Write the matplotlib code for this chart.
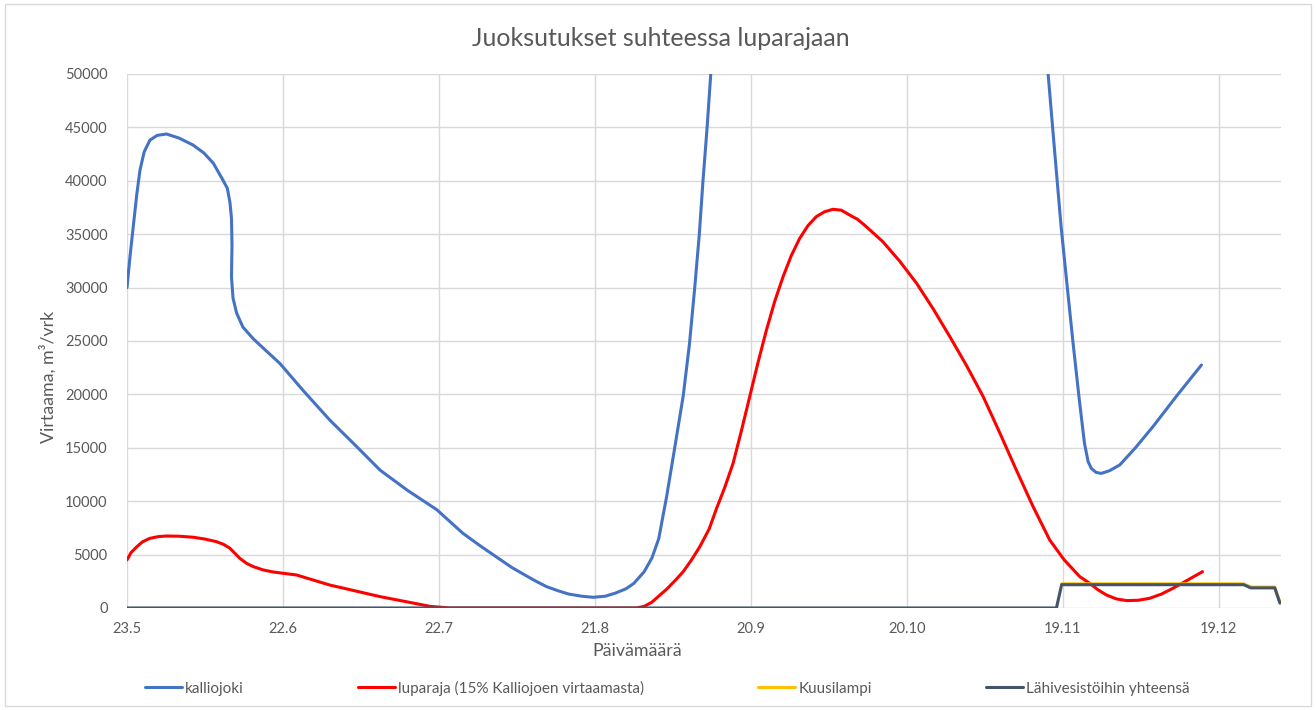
import pandas as pd
import matplotlib
matplotlib.use('Agg')
import matplotlib.pyplot as plt
import matplotlib.dates as mdates
from matplotlib.ticker import FuncFormatter
from matplotlib.patches import Rectangle

# Päivät laskettu alkupäivästä 23.5.
alku = pd.Timestamp('2020-05-23')

kalliojoki_pv = [0, 0.6, 1.2, 1.9, 2.5, 3.3, 4.4, 5.8, 7.6, 10, 12.7, 14.8, 16.6, 18.3,
                 19.3, 19.8, 20.1, 20.2, 20.1, 20.4, 21.1, 22.3, 24.3, 26.5, 29.4, 34, 39,
                 44, 48.7, 54, 59.6, 64.6, 68, 71, 74, 76.5, 78.5, 80.7, 83, 85, 87.5,
                 89.7, 92, 94, 96, 97.5, 99.5, 101, 102.3, 103.8, 105.2, 107, 108.2,
                 109.2, 110.1, 110.8, 111.6, 112.3, 114, 116.6, 120, 123, 126, 129.5, 133,
                 136, 139, 145, 152, 158, 165, 171, 175, 177.2, 178.5, 179.7, 181, 182,
                 183.2, 184.2, 184.9, 185.5, 186.4, 187.4, 189, 191, 194, 197.4, 202, 206.7]
kalliojoki = [30000, 33000, 35700, 38800, 41000, 42700, 43800, 44250, 44380, 44000, 43350,
              42600, 41650, 40200, 39300, 38000, 36500, 34000, 31000, 29000, 27600, 26300,
              25200, 24200, 22900, 20300, 17600, 15200, 12900, 11000, 9200, 7000, 5800, 4800,
              3800, 3100, 2550, 2000, 1600, 1300, 1100, 1000, 1100, 1400, 1800, 2300, 3400,
              4700, 6500, 10400, 14500, 19850, 24700, 29900, 35000, 39950, 45000, 50000,
              62000, 90000, 132000, 173000, 207000, 231000, 244000, 249000, 245000, 229000,
              203000, 169000, 132000, 86000, 62000, 50000, 42500, 35700, 29500, 24800, 19500,
              15400, 13700, 13080, 12700, 12600, 12850, 13400, 15000, 17000, 19900, 22750]

luparaja_pv = [0, 0.8, 1.9, 3, 4.4, 6, 7.6, 10, 12.8, 15, 17.2, 18.6, 19.8, 20.8, 21.7, 23,
               24.3, 26.2, 28, 30, 32.6, 39, 48.7, 54, 58.3, 62, 98, 99.5, 101, 102.5,
               103.8, 105.5, 107, 108.6, 110.2, 112, 113.4, 115, 116.6, 118.2, 119.8, 121.4,
               123, 124.6, 126.2, 127.8, 129.4, 131, 132.6, 134.2, 135.8, 137.4, 139, 140.5,
               142, 145.4, 148.6, 151.9, 155.1, 158.3, 161.5, 164.7, 167.9, 171.1, 174.3,
               177.5, 180.3, 183.3, 185.2, 186.8, 188.4, 190.3, 192.3, 194.5, 196.7, 199,
               201.2, 204, 206.9]
luparaja = [4500, 5200, 5740, 6200, 6520, 6680, 6740, 6720, 6620, 6450, 6210, 5950, 5590,
            5100, 4650, 4180, 3870, 3560, 3380, 3250, 3090, 2150, 1060, 560, 150, 0, 0, 150,
            550, 1200, 1750, 2600, 3400, 4500, 5740, 7400, 9300, 11300, 13550, 16600, 19800,
            23000, 26000, 28700, 31000, 33000, 34600, 35800, 36640, 37100, 37330, 37250,
            36800, 36400, 35800, 34300, 32500, 30400, 28000, 25400, 22700, 19800, 16400,
            12900, 9500, 6370, 4500, 2930, 2310, 1700, 1220, 850, 690, 720, 900, 1300, 1840,
            2600, 3400]

kuusilampi_pv = [179.8, 214.8, 216.2, 220.8, 221.8]
kuusilampi = [2260, 2260, 1960, 1960, 520]

lahivesistot_pv = [0, 178.8, 179.8, 214.8, 216.2, 220.8, 221.8]
lahivesistot = [0, 0, 2180, 2180, 1880, 1880, 450]

tekstivari = '#595959'
fontti = ['Lato', 'DejaVu Sans']
plt.rcParams['font.family'] = fontti


def pvm(paivat):
    return alku + pd.to_timedelta(paivat, unit='D')


fig = plt.figure(figsize=(13.16, 7.1), dpi=100)
ax = fig.add_axes([0.0965, 0.1437, 0.8769, 0.7521])

tyyli = dict(lw=2.2, solid_joinstyle='round', solid_capstyle='round')
ax.plot(pvm(kalliojoki_pv), kalliojoki, color='#4472C4', label='kalliojoki', **tyyli)
ax.plot(pvm(luparaja_pv), luparaja, color='#FF0000',
        label='luparaja (15% Kalliojoen virtaamasta)', **tyyli)
ax.plot(pvm(kuusilampi_pv), kuusilampi, color='#FFC000', label='Kuusilampi', **tyyli)
ax.plot(pvm(lahivesistot_pv), lahivesistot, color='#44546A',
        label='Lähivesistöihin yhteensä', **tyyli)

ax.set_ylim(0, 50000)
ax.set_yticks(range(0, 50001, 5000))
ax.set_xlim(alku, alku + pd.Timedelta(days=222))
ax.set_xticks(pd.date_range(alku, periods=8, freq='30D'))
ax.xaxis.set_major_formatter(FuncFormatter(
    lambda v, p: f"{mdates.num2date(v).day}.{mdates.num2date(v).month}"))

ax.grid(True, color='#D9D9D9', lw=1)
ax.set_axisbelow(True)
for s in ax.spines.values():
    s.set_visible(False)
ax.tick_params(length=0, labelsize=10.5, labelcolor=tekstivari)
ax.tick_params(axis='y', pad=14)
ax.tick_params(axis='x', pad=10)

ax.set_title('Juoksutukset suhteessa luparajaan', fontsize=18, color=tekstivari,
             pad=20, x=0.463)
ax.set_xlabel('Päivämäärä', fontsize=12.8, color=tekstivari)
ax.xaxis.set_label_coords(0.442, -0.066)
ax.set_ylabel('Virtaama, m³/vrk', fontsize=12.8, color=tekstivari)
ax.yaxis.set_label_coords(-0.061, 0.433)

fig.legend(loc='center', bbox_to_anchor=(0.507, 0.031), ncol=4, frameon=False,
           fontsize=11, handlelength=2.4, handletextpad=0.2, columnspacing=7.5,
           labelcolor=tekstivari)

fig.patches.append(Rectangle((0.004, 0.005), 0.992, 0.99, transform=fig.transFigure,
                             fill=False, edgecolor='#D9D9D9', lw=1))

fig.savefig('out.png', dpi=100)
